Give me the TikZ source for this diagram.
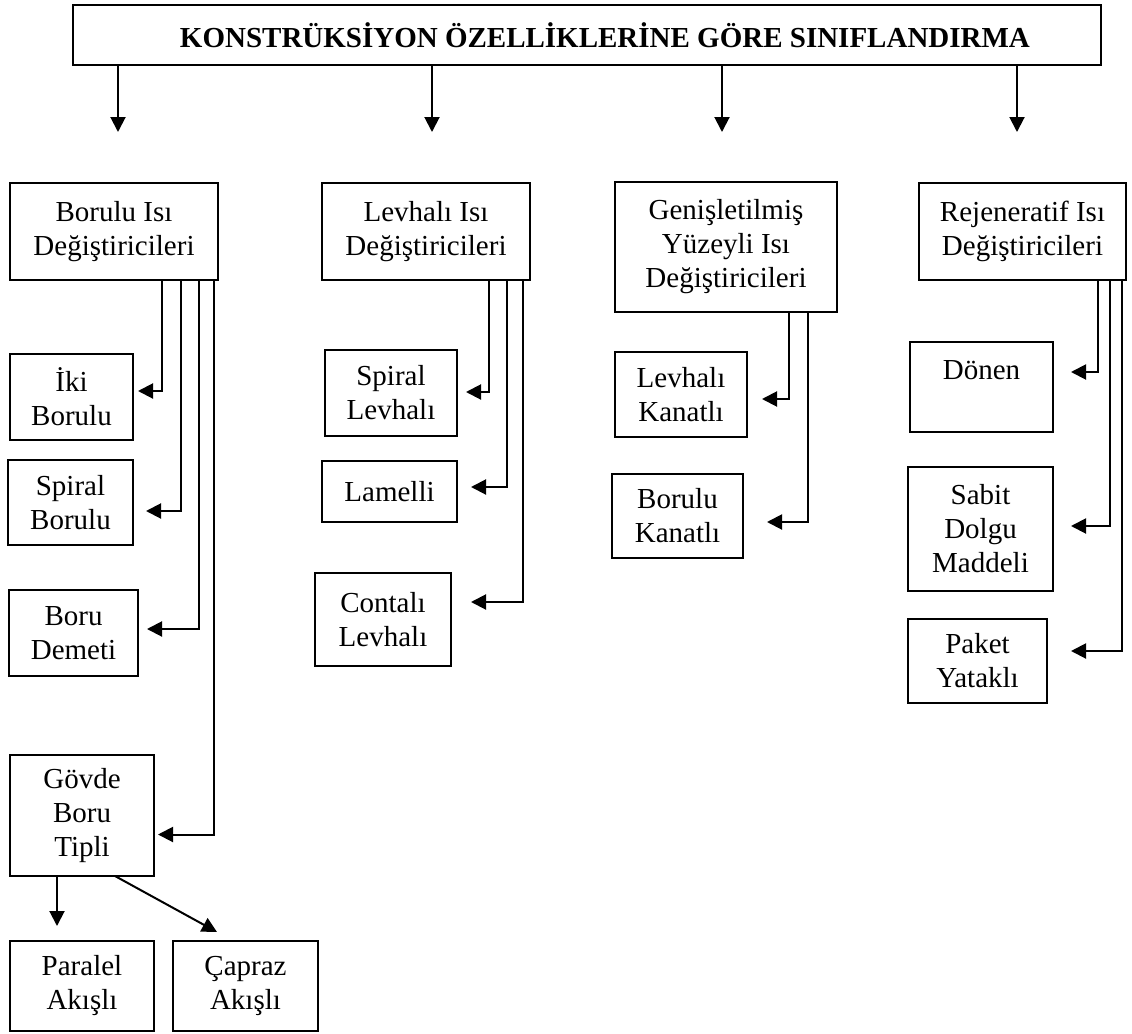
\documentclass[tikz,border=0pt]{standalone}
\usepackage{fontspec}
\setmainfont{Liberation Serif}
\usetikzlibrary{arrows.meta}
\begin{document}
\begin{tikzpicture}[x=1pt,y=-1pt,
  every node/.style={inner sep=0pt, outer sep=0pt, align=center,
    font=\fontsize{29}{34}\selectfont},
  box/.style={draw, line width=1.6pt},
  titlebox/.style={draw, line width=2.8pt},
  conn/.style={line width=2pt, -{Triangle[length=15pt,width=15pt]}}
]
\useasboundingbox (0,0) rectangle (1132,1033);

% title
\node[titlebox, minimum width=1028, minimum height=60] (T) at (587,35)
  {\hspace*{36pt}\textbf{KONSTRÜKSİYON ÖZELLİKLERİNE GÖRE SINIFLANDIRMA}};

% column 1: tubular
\node[box, minimum width=208, minimum height=97] (B1) at (114,231.5) {Borulu Isı\\Değiştiricileri};
\node[box, minimum width=123, minimum height=86] (iki) at (71.5,397) {İki\\Borulu};
\node[box, minimum width=125, minimum height=85] (spb) at (70.5,502.5) {Spiral\\Borulu};
\node[box, minimum width=129, minimum height=86] (bd) at (73.5,633) {Boru\\Demeti};
\node[box, minimum width=144, minimum height=121] (gv) at (82,815.5) {Gövde\\Boru\\Tipli};
\node[box, minimum width=144, minimum height=90] (par) at (82,986) {Paralel\\Akışlı};
\node[box, minimum width=145, minimum height=90] (cap) at (245.5,986) {Çapraz\\Akışlı};

% column 2: plate
\node[box, minimum width=208, minimum height=97] (L1) at (426,231.5) {Levhalı Isı\\Değiştiricileri};
\node[box, minimum width=132, minimum height=86] (sl) at (391,393) {Spiral\\Levhalı};
\node[box, minimum width=135, minimum height=61] (lam) at (389.5,491.5) {Lamelli};
\node[box, minimum width=136, minimum height=93] (cl) at (383,619.5) {Contalı\\Levhalı};

% column 3: extended surface
\node[box, minimum width=222, minimum height=130] (G1) at (726,247) {Genişletilmiş\\Yüzeyli Isı\\Değiştiricileri};
\node[box, minimum width=132, minimum height=85] (lk) at (681,394.5) {Levhalı\\Kanatlı};
\node[box, minimum width=131, minimum height=84] (bk) at (677.5,516) {Borulu\\Kanatlı};

% column 4: regenerative
\node[box, minimum width=207, minimum height=97] (R1) at (1022.5,231.5) {Rejeneratif Isı\\Değiştiricileri};
\node[box, minimum width=143, minimum height=90] (don) at (981.5,387) {Dönen\\\phantom{D}};
\node[box, minimum width=145, minimum height=124] (sdm) at (980.5,529) {Sabit\\Dolgu\\Maddeli};
\node[box, minimum width=139, minimum height=84] (py) at (977.5,661) {Paket\\Yataklı};

% title to categories
\draw[conn] ([xshift=45pt]T.south west) -- ([xshift=108pt,yshift=51pt]B1.north west);
\draw[conn] ([xshift=359pt]T.south west) -- ([xshift=110pt,yshift=51pt]L1.north west);
\draw[conn] ([xshift=649pt]T.south west) -- ([xshift=107pt,yshift=50pt]G1.north west);
\draw[conn] ([xshift=944pt]T.south west) -- ([xshift=98pt,yshift=51pt]R1.north west);

% column 1 connectors
\draw[conn] ([xshift=152pt]B1.south west) |- ([xshift=5pt,yshift=6pt]iki.east);
\draw[conn] ([xshift=171pt]B1.south west) |- ([xshift=13pt,yshift=-8.5pt]spb.east);
\draw[conn] ([xshift=189pt]B1.south west) |- ([xshift=9pt,yshift=4pt]bd.east);
\draw[conn] ([xshift=204pt]B1.south west) |- ([xshift=4pt,yshift=-19pt]gv.east);
\draw[conn] ([xshift=47pt]gv.south west) -- ([xshift=47pt,yshift=15pt]par.north west);
\draw[conn] ([xshift=105pt]gv.south west) -- ([xshift=44pt,yshift=9pt]cap.north west);

% column 2 connectors
\draw[conn] ([xshift=167pt]L1.south west) |- ([xshift=9pt,yshift=1pt]sl.east);
\draw[conn] ([xshift=185pt]L1.south west) |- ([xshift=14pt,yshift=4.5pt]lam.east);
\draw[conn] ([xshift=201pt]L1.south west) |- ([xshift=20pt,yshift=17.5pt]cl.east);

% column 3 connectors
\draw[conn] ([xshift=174pt]G1.south west) |- ([xshift=15pt,yshift=-4.5pt]lk.east);
\draw[conn] ([xshift=193pt]G1.south west) |- ([xshift=24pt,yshift=-6pt]bk.east);

% column 4 connectors
\draw[conn] ([xshift=179pt]R1.south west) |- ([xshift=18pt,yshift=15pt]don.east);
\draw[conn] ([xshift=191pt]R1.south west) |- ([xshift=18pt,yshift=3pt]sdm.east);
\draw[conn] ([xshift=203pt]R1.south west) |- ([xshift=24pt,yshift=10pt]py.east);
\end{tikzpicture}
\end{document}
